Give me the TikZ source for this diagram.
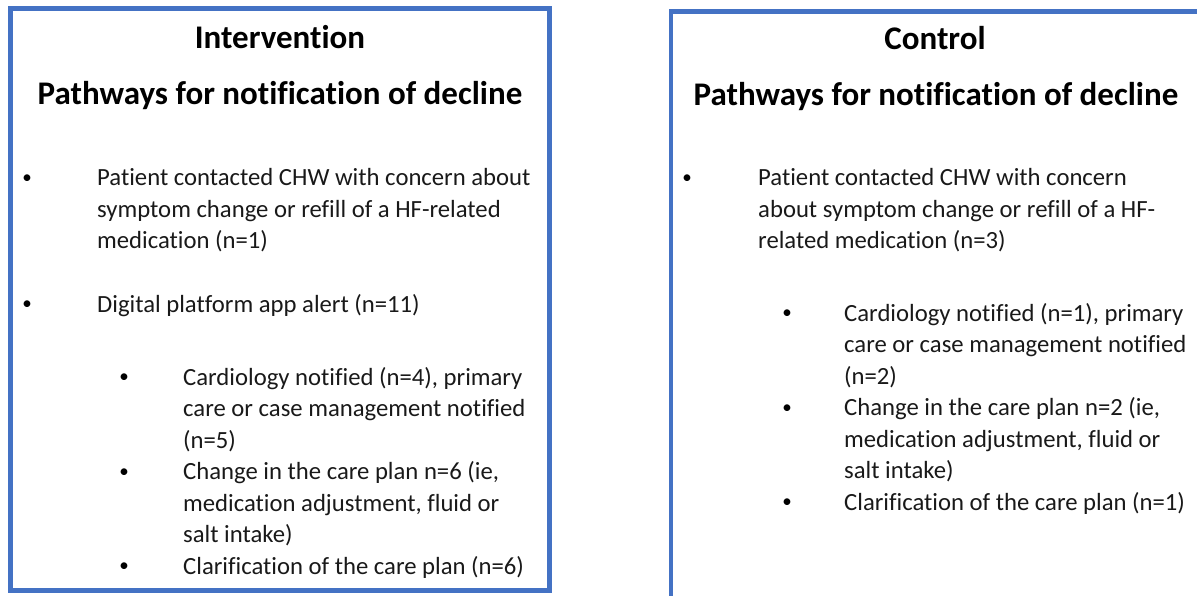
\documentclass[tikz,border=0pt]{standalone}
\usepackage{fontspec}
\setmainfont{Carlito}[Ligatures=NoCommon]
\definecolor{boxblue}{RGB}{68,114,196}
\tikzset{
panel/.style={draw=boxblue, line width=4.5pt},
heading/.style={font=\fontsize{33}{38}\selectfont\bfseries, anchor=base, inner sep=0pt},
itemtext/.style={font=\fontsize{24.7}{31.5}\selectfont, align=left, anchor=base west, inner sep=0pt, text=black!90},
bulletdot/.style={font=\fontsize{19}{24}\selectfont, anchor=base, inner sep=0pt, yshift=2.5pt},
}

\begin{document}
\begin{tikzpicture}[x=1pt, y=-1pt]
    \useasboundingbox (0,0) rectangle (1197,596);
    \clip (0,0) rectangle (1197,596);

    % intervention panel (multi-line nodes sit on their last line)
    \draw[panel] (10.5,8.5) rectangle (549.5,590.5);
    \node[heading] (intTitle) at (280,48.5) {Intervention};
    \node[heading] (intSub) at (280,105) {Pathways for notification of decline};

    \node[bulletdot] (intB1) at (27,186) {•};
    \node[itemtext] (intI1) at (97,249) {Patient contacted CHW with concern about\\symptom change or refill of a HF-related\\medication (n=1)};
    \node[bulletdot] (intB2) at (27,312) {•};
    \node[itemtext] (intI2) at (97,312) {Digital platform app alert (n=11)};

    \node[bulletdot] (intS1b) at (124,385) {•};
    \node[itemtext] (intS1) at (183,448) {Cardiology notified (n=4), primary\\care or case management notified\\(n=5)};
    \node[bulletdot] (intS2b) at (124,479.5) {•};
    \node[itemtext] (intS2) at (183,542.5) {Change in the care plan n=6 (ie,\\medication adjustment, fluid or\\salt intake)};
    \node[bulletdot] (intS3b) at (124,574) {•};
    \node[itemtext] (intS3) at (183,574) {Clarification of the care plan (n=6)};

    % control panel
    \draw[panel] (671,11.5) rectangle (1220,620);
    \node[heading] (ctlTitle) at (935,49.5) {Control};
    \node[heading] (ctlSub) at (936,106) {Pathways for notification of decline};

    \node[bulletdot] (ctlB1) at (687,186) {•};
    \node[itemtext] (ctlI1) at (758,249) {Patient contacted CHW with concern\\about symptom change or refill of a HF-\\related medication (n=3)};

    \node[bulletdot] (ctlS1b) at (787,321) {•};
    \node[itemtext] (ctlS1) at (844,384) {Cardiology notified (n=1), primary\\care or case management notified\\(n=2)};
    \node[bulletdot] (ctlS2b) at (787,415.5) {•};
    \node[itemtext] (ctlS2) at (844,478.5) {Change in the care plan n=2 (ie,\\medication adjustment, fluid or\\salt intake)};
    \node[bulletdot] (ctlS3b) at (787,510) {•};
    \node[itemtext] (ctlS3) at (844,510) {Clarification of the care plan (n=1)};
\end{tikzpicture}
\end{document}
